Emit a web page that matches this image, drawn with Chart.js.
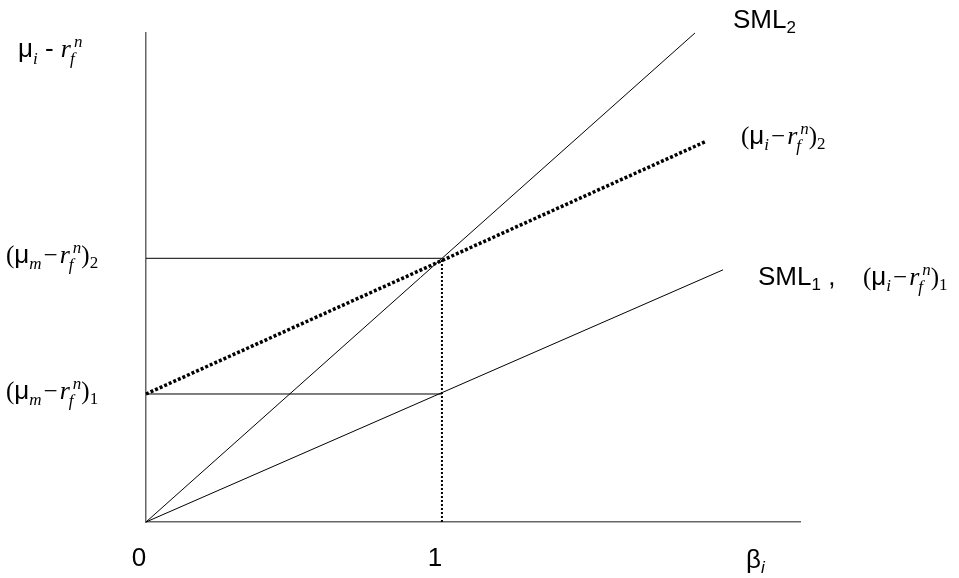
<!DOCTYPE html>
<html>
<head>
<meta charset="utf-8">
<script src="https://cdn.jsdelivr.net/npm/chart.js@4"></script>
<style>
  html, body { margin: 0; padding: 0; background: #fff; }
  #wrap { width: 959px; height: 578px; }
</style>
</head>
<body>
<div id="wrap"><canvas id="chart" width="959" height="578"></canvas></div>
<script>
// === Datos (beta, prima de riesgo) ===
const betaTicks = [0, 1];
const premium1 = 1;      // (mu_m - r_f^n)_1
const premium2 = 2.06;   // (mu_m - r_f^n)_2
const sml1Beta = [0, 1.95];
const sml1Prem = [0, 1.97];
const sml2Beta = [0, 1.855];
const sml2Prem = [0, 3.82];
const dotBeta = [0, 1.889];
const dotPrem = [1, 2.97];
const xMax = 2.21;
const yMax = 3.82;

const pts = (xs, ys) => xs.map((x, i) => ({ x, y: ys[i] }));

const SANS = '26px "Liberation Sans"';
const SANS_SUB = '17px "Liberation Sans"';
const SANS_ISUB = 'italic 17px "Liberation Sans"';
const SER = '25px "Liberation Serif"';
const VAR = 'italic 26px "Liberation Serif"';
const SUBS = 'italic 17px "Liberation Serif"';
const SER_SUB = '17px "Liberation Serif"';

function rich(ctx, x, y, parts) {
    let cx = x;
    for (const p of parts) {
        ctx.font = p.f;
        cx += p.dx || 0;
        ctx.fillText(p.t, cx, y + (p.dy || 0));
        if (!p.stack) cx += ctx.measureText(p.t).width;
    }
}

const rfn = (gap) => [
    { t: "r", f: VAR, dx: gap },
    { t: "f", f: SUBS, dy: 7, dx: -1, stack: true },
    { t: "n", f: SUBS, dy: -10, dx: 4 }
];
const bracket = (sub, idx) => [
    { t: "(", f: SER },
    { t: "μ", f: SANS },
    { t: sub, f: SUBS, dy: 6 },
    { t: "−", f: SER, dx: 2 },
    ...rfn(2),
    { t: ")", f: SER },
    { t: idx, f: SER_SUB, dy: 5 }
];

const labelsPlugin = {
    id: "labels",
    afterDraw(chart) {
        const ctx = chart.ctx;
        const y = chart.scales.y;
        ctx.save();
        ctx.fillStyle = "#000";
        ctx.textBaseline = "alphabetic";
        ctx.textAlign = "left";
        // y axis title
        rich(ctx, 18, 57, [
            { t: "μ", f: SANS },
            { t: "i", f: SUBS, dy: 7 },
            { t: " - ", f: SANS },
            ...rfn(0)
        ]);
        rich(ctx, 6, y.getPixelForValue(premium2) + 5, bracket("m", "2"));
        rich(ctx, 6, y.getPixelForValue(premium1) + 5, bracket("m", "1"));
        rich(ctx, 733, 28, [{ t: "SML", f: SANS }, { t: "2", f: SANS_SUB, dy: 5 }]);
        rich(ctx, 741, 144, bracket("i", "2"));
        rich(ctx, 758, 285, [{ t: "SML", f: SANS }, { t: "1", f: SANS_SUB, dy: 5 }, { t: " ,", f: SANS }]);
        rich(ctx, 863, 285, bracket("i", "1"));
        rich(ctx, 746, 568, [{ t: "β", f: SANS }, { t: "i", f: SANS_ISUB, dy: 5 }]);
        ctx.restore();
    }
};

const solid = (data) => ({
    data, showLine: true, borderColor: "#000", borderWidth: 1,
    pointRadius: 0, fill: false, clip: false
});

new Chart(document.getElementById("chart").getContext("2d"), {
    type: "scatter",
    data: {
        datasets: [
            solid(pts(sml2Beta, sml2Prem)),
            solid(pts(sml1Beta, sml1Prem)),
            solid(pts([0, 1], [premium2, premium2])),
            solid(pts([0, 1], [premium1, premium1])),
            { ...solid(pts(dotBeta, dotPrem)), borderWidth: 3.5, borderDash: [3, 2] },
            { ...solid(pts([1, 1], [0, premium2])), borderWidth: 2, borderDash: [2, 2] }
        ]
    },
    options: {
        responsive: false,
        animation: false,
        layout: { padding: { left: 0, top: 33, right: 159, bottom: 0 } },
        plugins: { legend: { display: false }, tooltip: { enabled: false } },
        scales: {
            x: {
                type: "linear", min: 0, max: xMax,
                grid: { display: false },
                border: { display: true, color: "#666", width: 1.5 },
                afterBuildTicks: (s) => { s.ticks = betaTicks.map(v => ({ value: v })); },
                afterFit: (s) => { s.height = 56; },
                ticks: {
                    color: "#000", padding: 13, labelOffset: -7,
                    font: { family: "Liberation Sans", size: 26 },
                    callback: (v) => String(v)
                }
            },
            y: {
                type: "linear", min: 0, max: yMax,
                grid: { display: false },
                border: { display: true, color: "#666", width: 1.5 },
                ticks: { display: false },
                afterFit: (s) => { s.width = 146; }
            }
        }
    },
    plugins: [labelsPlugin]
});
</script>
</body>
</html>
